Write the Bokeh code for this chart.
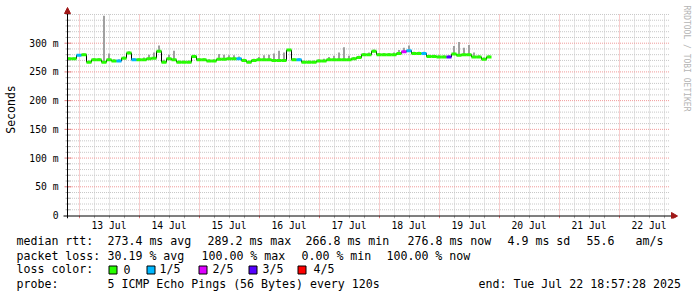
from datetime import datetime, timedelta
from bokeh.plotting import figure
from bokeh.layouts import column
from bokeh.models import ColumnDataSource, Range1d, FixedTicker, DatetimeTickFormatter
from bokeh.core.properties import value
from bokeh.embed import file_html
from bokeh.resources import INLINE

# ---------------- data ----------------
day0 = datetime(2025, 7, 13)                 # 13 Jul 00:00
data_start = datetime(2025, 7, 12, 19, 36)   # left edge of the graph
data_end = datetime(2025, 7, 22, 20, 24)     # right edge of the graph

hours = [-4, -2, 0, 2, 4, 6, 8, 10, 12, 14, 16, 18, 20, 22, 24, 26, 28, 30, 32, 34,
         36, 38, 40, 42, 44, 46, 48, 50, 52, 54, 56, 58, 60, 62, 64, 66, 68, 70, 72, 74,
         76, 78, 80, 82, 84, 86, 88, 90, 92, 94, 96, 98, 100, 102, 104, 106, 108, 110, 112, 114,
         116, 118, 120, 122, 124, 126, 128, 130, 132, 134, 136, 138, 140, 142, 144, 146, 148, 150, 152, 154,
         156, 158, 160, 162, 164]
median_ms = [273, 273, 279, 280, 267, 271, 271, 267, 271, 269, 269, 274, 283, 271, 271, 271, 273, 274, 286, 267,
             273, 271, 267, 267, 267, 277, 271, 271, 269, 269, 272, 272, 273, 273, 273, 270, 267, 270, 271, 271,
             271, 270, 270, 270, 288, 271, 271, 267, 267, 267, 269, 269, 271, 271, 271, 271, 271, 273, 275, 280,
             280, 286, 280, 280, 280, 280, 282, 285, 287, 282, 282, 282, 277, 277, 276, 276, 276, 281, 279, 280,
             280, 276, 276, 272, 276]
smoke_hi_ms = [275, 275, 281, 282, 270, 274, 274, 348, 282, 272, 272, 277, 286, 274, 274, 275, 280, 284, 296, 271,
               280, 287, 270, 270, 270, 280, 274, 274, 272, 272, 281, 280, 279, 279, 277, 273, 270, 273, 276, 279,
               280, 282, 287, 284, 290, 274, 274, 270, 270, 270, 272, 273, 276, 278, 284, 293, 278, 276, 278, 283,
               284, 289, 283, 283, 283, 284, 288, 292, 296, 285, 285, 285, 280, 280, 279, 279, 279, 295, 302, 292,
               297, 284, 279, 275, 279]
loss = [0, 0, 1, 0, 0, 0, 0, 0, 0, 0, 1, 0, 0, 1, 0, 0, 0, 0, 0, 0,
        0, 0, 0, 0, 0, 0, 0, 0, 0, 0, 0, 0, 0, 0, 1, 0, 0, 0, 0, 0,
        0, 0, 0, 0, 0, 0, 1, 0, 0, 0, 0, 0, 0, 0, 0, 0, 0, 0, 0, 0,
        0, 0, 0, 0, 0, 0, 0, 2, 1, 0, 0, 1, 0, 0, 0, 0, 3, 0, 0, 0,
        0, 0, 0, 0, 0]

loss_labels = ["0", "1/5", "2/5", "3/5", "4/5"]
loss_colors = ["#26ff00", "#00b8ff", "#dd00ff", "#5500ff", "#ff0000"]

day_labels = ["13 Jul", "14 Jul", "15 Jul", "16 Jul", "17 Jul", "18 Jul", "19 Jul", "20 Jul", "21 Jul", "22 Jul"]
y_ticks = [0, 50, 100, 150, 200, 250, 300]
y_tick_labels = ["0", "50 m", "100 m", "150 m", "200 m", "250 m", "300 m"]
y_top = 350

legend_rows = [
    [("median rtt:", 16), ("273.4 ms avg", 107), ("289.2 ms max", 207), ("266.8 ms min", 305),
     ("276.8 ms now", 407), ("4.9 ms sd", 507), ("55.6", 586), ("am/s", 635)],
    [("packet loss:", 16), ("30.19 % avg", 107), ("100.00 % max", 201), ("0.00 % min", 301),
     ("100.00 % now", 386)],
    [("loss color:", 16)],
    [("probe:", 16), ("5 ICMP Echo Pings (56 Bytes) every 120s", 107),
     ("end: Tue Jul 22 18:57:28 2025", 478)],
]
watermark = "RRDTOOL / TOBI OETIKER"

# ---------------- layout (pixel geometry of the canvas) ----------------
W, H = 697, 297
TOP_H = 233                      # height of the graph figure; legend below
FRAME_L, FRAME_B = 60, 218       # frame of the graph figure
AX_X, AX_Y = 67, 215             # pixel of the axis origin (data_start, 0 ms)
PX_PER_DAY = 60.0
PX_PER_MS = 172.3 / 300.0
MONO = "DejaVu Sans Mono"

def tx(px):
    """canvas pixel -> time (crisp: +0.5 px)"""
    return data_start + timedelta(days=(px - AX_X - 0.5) / PX_PER_DAY)

def vy(py):
    """canvas pixel -> milliseconds"""
    return (AX_Y - py) / PX_PER_MS

def ms_epoch(dt):
    return (dt - datetime(1970, 1, 1)).total_seconds() * 1000.0

p = figure(width=W, height=TOP_H, output_backend="svg", toolbar_location=None,
           x_axis_type="datetime", title_location=None,
           x_range=Range1d(tx(FRAME_L), tx(W)), y_range=Range1d(vy(FRAME_B), vy(0)),
           min_border_left=FRAME_L, min_border_right=0, min_border_top=0,
           min_border_bottom=TOP_H - FRAME_B)
p.frame_align = False
p.outline_line_color = None
p.background_fill_color = "white"
p.border_fill_color = "white"
p.xgrid.visible = False
p.ygrid.visible = False

# ---- axes (labels only; lines/ticks drawn as glyphs below) ----
noons = [ms_epoch(day0 + timedelta(days=d, hours=12)) for d in range(len(day_labels))]
xa = p.xaxis[0]
xa.ticker = FixedTicker(ticks=noons, minor_ticks=[])
xa.formatter = DatetimeTickFormatter(days="%d %b", hours="%d %b", months="%d %b",
                                     minutes="%d %b", hourmin="%d %b")
xa.axis_line_color = None
xa.major_tick_line_color = None
xa.minor_tick_line_color = None
xa.major_tick_out = 0
xa.major_tick_in = 0
xa.major_label_standoff = 1
xa.major_label_text_font = MONO
xa.major_label_text_font_size = "9.7px"
xa.major_label_text_color = "black"

ya = p.yaxis[0]
ya.ticker = FixedTicker(ticks=y_ticks, minor_ticks=[])
ya.major_label_overrides = {v: s for v, s in zip(y_ticks, y_tick_labels)}
ya.axis_line_color = None
ya.major_tick_line_color = None
ya.minor_tick_line_color = None
ya.major_tick_out = 0
ya.major_tick_in = 0
ya.major_label_standoff = 2
ya.major_label_text_font = MONO
ya.major_label_text_font_size = "9.7px"
ya.major_label_text_color = "black"
ya.axis_label = "Seconds"
ya.axis_label_text_font = MONO
ya.axis_label_text_font_size = "11.5px"
ya.axis_label_text_font_style = "normal"
ya.axis_label_text_color = "black"
ya.axis_label_standoff = 8

# ---- grid (dotted, drawn as segments) ----
GRID_MINOR = "#c8c8c8"
GRID_MAJOR = "#f09a9a"
t_first = data_start
t_last = data_end
six = [day0 + timedelta(hours=6 * k) for k in range(-4, 44)]
minor_t = [t for t in six if t_first < t < t_last and t.hour != 0]
major_t = [t for t in six if t_first < t < t_last and t.hour == 0]
off = timedelta(days=0.5 / PX_PER_DAY)
p.segment(x0=[t + off for t in minor_t], x1=[t + off for t in minor_t],
          y0=0, y1=y_top, line_color=GRID_MINOR, line_width=1, line_dash="1 1")
p.segment(x0=[t + off for t in major_t], x1=[t + off for t in major_t],
          y0=0, y1=y_top, line_color=GRID_MAJOR, line_width=1, line_dash="1 1")
minor_y = [v for v in range(10, y_top + 1, 10) if v not in y_ticks]
major_y = [v for v in y_ticks if v > 0]
p.segment(x0=t_first, x1=t_last, y0=minor_y, y1=minor_y,
          line_color=GRID_MINOR, line_width=1, line_dash="1 1")
p.segment(x0=t_first, x1=t_last, y0=major_y, y1=major_y,
          line_color=GRID_MAJOR, line_width=1, line_dash="1 1")

# ---- data ----
t_mid = [day0 + timedelta(hours=h) for h in hours]
t_lo = [max(t - timedelta(hours=1), data_start) for t in t_mid]
t_hi = [t + timedelta(hours=1) for t in t_mid]
t_sl = [max(t - timedelta(hours=0.4), data_start) for t in t_mid]
t_sr = [t + timedelta(hours=0.4) for t in t_mid]
src = ColumnDataSource(dict(t=t_mid, t0=t_lo, t1=t_hi, sl=t_sl, sr=t_sr,
                            med=median_ms, hi=smoke_hi_ms,
                            col=[loss_colors[k] for k in loss]))
p.quad(left="sl", right="sr", bottom="med", top="hi", source=src,
       fill_color="#a0a0a0", line_color=None)
p.step(x="t", y="med", source=src, mode="center", line_color="black", line_width=1)
p.segment(x0="t0", y0="med", x1="t1", y1="med", source=src, line_color="col", line_width=3)

# ---- axis lines, ticks and arrows ----
AR = "#a01818"
x_axis_t = tx(AX_X)
y0_line = vy(AX_Y + 0.5)
p.segment(x0=[t + off for t in minor_t], x1=[t + off for t in minor_t],
          y0=y0_line, y1=vy(AX_Y + 3), line_color="#b0b0b0", line_width=1)
p.segment(x0=[t + off for t in major_t], x1=[t + off for t in major_t],
          y0=y0_line, y1=vy(AX_Y + 3), line_color="#e08080", line_width=1)
p.segment(x0=tx(AX_X - 2), x1=tx(AX_X + 3), y0=minor_y, y1=minor_y,
          line_color="#b0b0b0", line_width=1)
p.segment(x0=tx(AX_X - 3), x1=tx(AX_X + 4), y0=major_y, y1=major_y,
          line_color="#e08080", line_width=1)
p.segment(x0=[tx(AX_X - 4)], x1=[tx(AX_X + 605)], y0=[y0_line], y1=[y0_line],
          line_color="black", line_width=1)
p.segment(x0=[x_axis_t], x1=[x_axis_t], y0=[vy(AX_Y + 3)], y1=[vy(10)],
          line_color="black", line_width=1)
p.patch(x=[tx(AX_X - 3), tx(AX_X + 3), tx(AX_X)], y=[vy(13), vy(13), vy(7)],
        fill_color=AR, line_color=AR, line_width=1)
p.patch(x=[tx(AX_X + 604), tx(AX_X + 604), tx(AX_X + 610)],
        y=[vy(AX_Y - 3), vy(AX_Y + 4), vy(AX_Y + 0.5)],
        fill_color=AR, line_color=AR, line_width=1)

# ---- watermark ----
p.text(x=[tx(686)], y=[vy(5)], text=[watermark], angle=-1.5708,
       text_font=value(MONO), text_font_size=value("8px"), text_color="#b4b4b4",
       text_align="left", text_baseline="middle")

# ---------------- legend figure (pixel coordinates) ----------------
leg = figure(width=W, height=H - TOP_H, output_backend="svg", toolbar_location=None,
             x_axis_location=None, y_axis_location=None, title_location=None,
             x_range=Range1d(0, W), y_range=Range1d(H, TOP_H),
             min_border=0, min_border_left=0, min_border_right=0,
             min_border_top=0, min_border_bottom=0)
leg.frame_align = False
leg.outline_line_color = None
leg.xgrid.visible = False
leg.ygrid.visible = False
leg.background_fill_color = "white"
leg.border_fill_color = "white"

row_y = [240, 255, 268.5, 283.5]
xs, ys, ts = [], [], []
for row, cy in zip(legend_rows, row_y):
    for text, cx in row:
        xs.append(cx); ys.append(cy); ts.append(text)
box_x = [108, 146, 198, 248, 297]
lab_x = [123, 159, 212, 262, 313]
for bx, lx, t in zip(box_x, lab_x, loss_labels):
    xs.append(lx); ys.append(row_y[2]); ts.append(t)
leg.text(x=xs, y=ys, text=ts, text_font=value(MONO), text_font_size=value("11.6px"),
         text_color="black", text_align="left", text_baseline="middle")
leg.quad(left=[b + 0.5 for b in box_x], right=[b + 8.5 for b in box_x],
         top=[265.5] * len(box_x), bottom=[273.5] * len(box_x),
         fill_color=loss_colors, line_color="black", line_width=1)

layout = column(p, leg, spacing=0)
open("out.html", "w").write(file_html(layout, INLINE))
